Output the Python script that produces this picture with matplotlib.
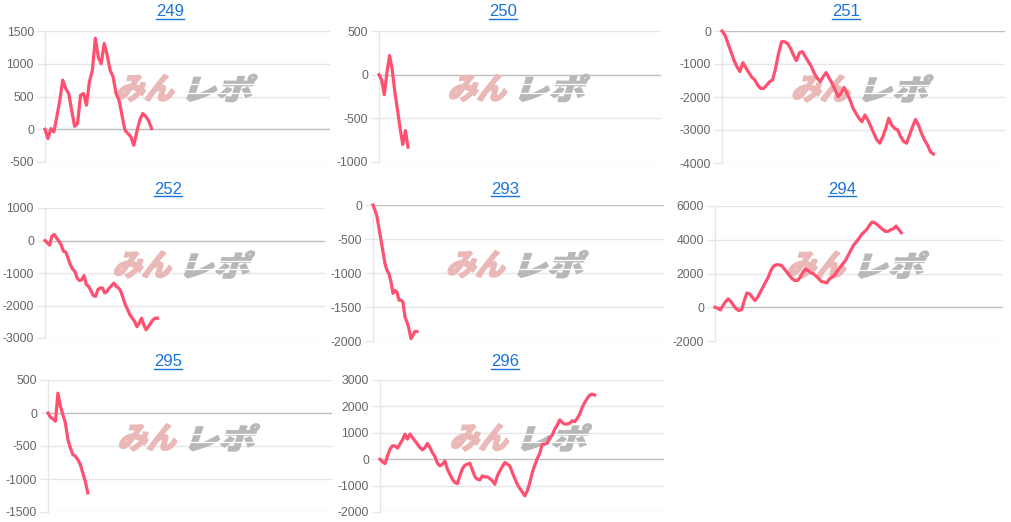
import matplotlib
matplotlib.use("Agg")
import matplotlib.pyplot as plt
import numpy as np
from matplotlib.textpath import TextPath
from matplotlib.patches import PathPatch
from matplotlib.font_manager import FontProperties
from matplotlib.transforms import Affine2D
from matplotlib.lines import Line2D

plt.rcParams['axes.unicode_minus'] = False
plt.rcParams['font.family'] = ['Liberation Sans', 'DejaVu Sans']

# ---------------- data ----------------
titles = ["249", "250", "251", "252", "293", "294", "295", "296"]

s249 = [0, -143, 10, -40, 190, 445, 750, 620, 545, 290, 45, 85, 520, 545, 367, 724,
        900, 1390, 1100, 1000, 1310, 1130, 900, 800, 545, 445, 215, -15, -65, -115,
        -245, -40, 140, 240, 200, 128, 10]
s250 = [0, -60, -230, 20, 220, 60, -200, -400, -620, -800, -640, -830]
s251 = [0, -120, -375, -625, -880, -1080, -1230, -960, -1110, -1260, -1400, -1480,
        -1640, -1740, -1740, -1640, -1540, -1480, -1130, -680, -325, -325, -375, -525,
        -730, -900, -660, -625, -780, -930, -1080, -1280, -1430, -1535, -1380, -1260,
        -1430, -1590, -1790, -1990, -1890, -1710, -1890, -2090, -2340, -2495, -2645,
        -2750, -2545, -2700, -2900, -3100, -3300, -3400, -3200, -2950, -2645, -2850,
        -2950, -3000, -3200, -3350, -3400, -3150, -2900, -2680, -2850, -3100, -3300,
        -3450, -3660, -3730]
s252 = [0, -70, -145, 135, 185, 80, -20, -125, -330, -350, -535, -740, -875, -950,
        -1155, -1235, -1205, -1080, -1360, -1410, -1545, -1690, -1720, -1515, -1460,
        -1460, -1615, -1565, -1460, -1390, -1310, -1410, -1460, -1565, -1770, -1980,
        -2130, -2290, -2390, -2490, -2650, -2545, -2390, -2595, -2750, -2650, -2545,
        -2440, -2390, -2390]
s293 = [0, -75, -170, -345, -515, -690, -860, -960, -1010, -1130, -1300, -1255, -1280,
        -1400, -1400, -1425, -1645, -1720, -1820, -1965, -1915, -1860, -1860]
s294 = [0, -60, -160, 100, 335, 495, 335, 100, -100, -200, -140, 395, 850, 790, 595,
        395, 595, 890, 1190, 1485, 1780, 2180, 2435, 2515, 2515, 2475, 2280, 2080, 1880,
        1685, 1585, 1585, 1780, 2080, 2280, 2180, 2040, 1980, 1840, 1685, 1525, 1485,
        1445, 1685, 1780, 1920, 2180, 2375, 2575, 2770, 3070, 3365, 3665, 3860, 4060,
        4300, 4455, 4610, 4850, 5050, 5010, 4890, 4750, 4610, 4495, 4495, 4595, 4650,
        4810, 4610, 4415]
s295 = [0, -65, -90, -125, 300, 100, -25, -150, -400, -530, -630, -655, -705, -780,
        -905, -1035, -1210]
s296 = [0, -100, -165, 125, 380, 505, 505, 420, 570, 735, 950, 760, 950, 820, 695, 570,
        440, 355, 440, 595, 440, 250, 100, -150, -255, -190, -65, -380, -570, -760, -885,
        -925, -630, -355, -230, -190, -150, -405, -660, -760, -785, -630, -670, -670,
        -735, -820, -950, -630, -445, -280, -125, -190, -255, -505, -735, -950, -1115,
        -1240, -1390, -1200, -885, -505, -230, 25, 230, 570, 570, 605, 820, 910, 1140,
        1290, 1490, 1390, 1330, 1330, 1365, 1455, 1420, 1545, 1710, 1960, 2150, 2300,
        2430, 2465, 2430]
series = [s249, s250, s251, s252, s293, s294, s295, s296]

y_ranges = [(-500, 1500, 500), (-1000, 500, 500), (-4000, 0, 1000), (-3000, 1000, 1000),
            (-2000, 0, 500), (-2000, 6000, 2000), (-1500, 500, 500), (-2000, 3000, 1000)]
# fraction of the x axis covered by each series
span_frac = [0.374, 0.103, 0.747, 0.402, 0.151, 0.647, 0.140, 0.756]

# ---------------- layout (pixels) ----------------
W, H = 1011, 522
boxes = [(45, 31, 330, 162), (379, 31, 661, 162), (722, 31, 1005, 163),
         (45, 208, 325, 338), (373, 205, 664, 341), (715, 206, 1003, 341),
         (48, 380, 332, 512), (380, 380, 664, 512)]
title_pos = [(170, 12), (503, 12), (846, 12), (168, 189), (505, 189), (842, 189),
             (168, 362), (505, 362)]

LINE = '#ff5070'
GRID = '#e6e6e6'
ZERO = '#bdbdbd'
TICK = '#666666'
TITLE = '#1a73d9'

fig = plt.figure(figsize=(W / 100, H / 100), dpi=100)
fig.patch.set_facecolor('white')

fp_logo = FontProperties(family='Noto Sans CJK JP', weight='black')


def logo_part(text, x0, y0, w, h, color, ax, stripes=False):
    tp = TextPath((0, 0), text, size=10, prop=fp_logo)
    ext = tp.get_extents()
    tr = (Affine2D().translate(-ext.x0, -ext.y0)
          .scale(w / ext.width * 0.88, h / ext.height)
          .skew_deg(18, 0)
          .translate(x0, y0))
    p = PathPatch(tp, transform=tr, facecolor=color, edgecolor=color, lw=1.1,
                  joinstyle='miter', zorder=1.5, clip_on=False)
    ax.add_artist(p)
    if stripes:
        for fy in (0.32, 0.64):
            yy = y0 + fy * h
            ax.add_artist(Line2D([x0 - 2, x0 + w + 6], [yy, yy], color='white',
                                 lw=0.9, transform=None, zorder=1.6, clip_on=False))


axes = []
for i, (l, t, r, b) in enumerate(boxes):
    ax = fig.add_axes([l / W, 1 - b / H, (r - l) / W, (b - t) / H])
    ax.set_facecolor('none')
    ys = series[i]
    n = len(ys)
    ax.plot(np.arange(n), ys, color=LINE, lw=2.3, solid_joinstyle='round', zorder=3,
            clip_on=False)
    xmax = (n - 1) / span_frac[i]
    ax.set_xlim(0, xmax)
    lo, hi, st = y_ranges[i]
    ax.set_ylim(lo, hi)
    ticks = np.arange(lo, hi + st / 2, st)
    ax.set_yticks(ticks)
    ax.set_yticklabels([str(int(v)) for v in ticks])
    ax.set_xticks([])
    for v in ticks:
        ax.axhline(v, color=ZERO if v == 0 else GRID, lw=1.0, zorder=1)
    for s in ['top', 'right', 'bottom']:
        ax.spines[s].set_visible(False)
    ax.spines['left'].set_color(GRID)
    ax.spines['left'].set_linewidth(1.0)
    ax.tick_params(axis='y', length=6, width=1.0, color=GRID, pad=2,
                   labelsize=8.8, labelcolor=TICK)
    # watermark logo
    cx = l + 0.505 * (r - l)
    cy = H - (t + (1 - 0.565) * (b - t))
    logo_part("みん", cx - 74, cy - 13.5, 64, 27, '#ebb8b8', ax)
    logo_part("レポ", cx - 3, cy - 13.5, 72, 27, '#b8b8b8', ax, stripes=True)
    axes.append(ax)

texts = []
for i, (x, y) in enumerate(title_pos):
    tx = fig.text(x / W, 1 - y / H, titles[i], ha='center', va='center',
                  fontsize=12, color=TITLE)
    texts.append(tx)

fig.canvas.draw()
renderer = fig.canvas.get_renderer()
for tx in texts:
    bb = tx.get_window_extent(renderer)
    yline = bb.y0 + 1.0
    fig.add_artist(Line2D([bb.x0, bb.x1], [yline, yline], color=TITLE, lw=1.0,
                          transform=None))

fig.savefig('out.png', dpi=100, facecolor='white')
